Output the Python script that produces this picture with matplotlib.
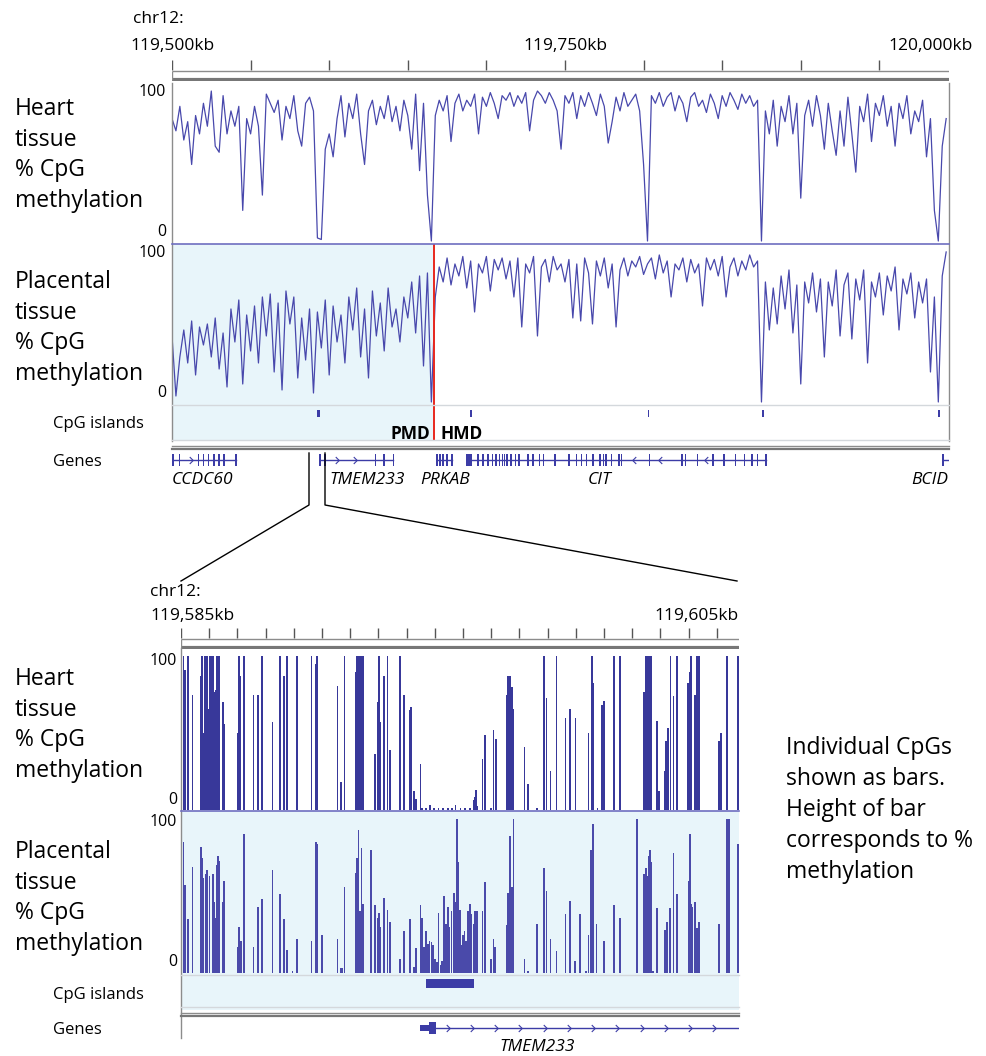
import numpy as np
import matplotlib
matplotlib.use("Agg")
import matplotlib.pyplot as plt
from matplotlib.path import Path

# ---- data -------------------------------------------------------------
# overview region, chr12 (kb)
TOP_START = 119500.0
TOP_END = 119994.3
BIN_KB = 2.5
PMD_HMD_BORDER = 119666.7

heart_top = [
    80, 72, 88, 66, 78, 50, 82, 70, 90, 75,
    98, 62, 58, 95, 70, 85, 75, 88, 20, 80,
    70, 88, 75, 30, 96, 90, 84, 92, 66, 88,
    80, 95, 72, 62, 90, 94, 85, 2, 1, 60,
    70, 55, 80, 95, 68, 90, 80, 96, 70, 50,
    85, 92, 76, 88, 80, 95, 78, 88, 72, 92,
    82, 60, 96, 46, 90, 30, 0, 82, 92, 85,
    95, 65, 90, 96, 85, 92, 88, 96, 70, 94,
    88, 97, 90, 80, 95, 92, 97, 88, 95, 90,
    97, 72, 92, 98, 95, 90, 97, 92, 85, 60,
    95, 90, 97, 80, 95, 88, 97, 90, 82, 96,
    88, 64, 78, 94, 85, 97, 88, 92, 96, 85,
    50, 0, 95, 90, 97, 88, 94, 97, 85, 95,
    90, 78, 94, 97, 88, 92, 84, 96, 90, 80,
    95, 88, 97, 92, 86, 96, 90, 95, 88, 92,
    0, 85, 70, 92, 62, 88, 78, 95, 70, 90,
    28, 82, 92, 75, 95, 82, 60, 90, 72, 56,
    85, 62, 94, 70, 45, 88, 78, 96, 65, 90,
    82, 95, 75, 88, 62, 90, 80, 95, 70, 85,
    78, 92, 55, 80, 20, 0, 62, 80,
]

placenta_top = [
    44, 4, 30, 48, 26, 54, 18, 50, 38, 52,
    30, 56, 22, 46, 10, 62, 40, 68, 12, 58,
    34, 64, 26, 70, 44, 72, 20, 66, 8, 74,
    52, 70, 16, 56, 28, 62, 6, 60, 36, 68,
    18, 64, 40, 58, 26, 70, 48, 76, 30, 62,
    16, 74, 44, 66, 34, 76, 50, 62, 40, 70,
    56, 80, 46, 84, 24, 86, 0, 70, 90, 80,
    96, 78, 92, 84, 97, 76, 94, 60, 92, 86,
    97, 74, 95, 88, 96, 82, 94, 70, 96, 50,
    92, 86, 97, 44, 90, 95, 80, 97, 88, 92,
    80, 95, 56, 92, 54, 96, 86, 52, 94, 84,
    96, 76, 92, 50, 88, 96, 84, 94, 90, 97,
    85, 92, 96, 82, 98, 86, 94, 70, 92, 88,
    96, 80, 95, 86, 92, 64, 96, 88, 95, 84,
    97, 70, 90, 96, 84, 94, 88, 98, 90, 94,
    0, 80, 48, 76, 52, 84, 62, 88, 46, 78,
    12, 80, 66, 86, 60, 82, 30, 80, 64, 88,
    44, 78, 86, 42, 82, 68, 88, 26, 80, 70,
    86, 58, 84, 74, 90, 48, 82, 72, 86, 56,
    80, 66, 82, 20, 70, 0, 84, 100,
]

# CpG islands (kb from TOP_START): start, end
islands_top = [(92.0, 94.0), (189.8, 190.6), (302.5, 303.3), (375.6, 376.4), (487.0, 488.3)]

# genes (kb from TOP_START)
genes_top = {
    "CCDC60": dict(span=(0.0, 40.6), exons=[0.5, 4.8, 16.9, 20.1, 23.3, 26.6, 29.9, 33.1, 40.6],
                   arrows=[12.0], strand="+"),
    "TMEM233": dict(span=(94.1, 140.8), exons=[94.1, 97.4, 129.4, 134.9, 140.8],
                    arrows=[105.0, 116.4], strand="+"),
    "PRKAB": dict(span=(168.6, 178.1), exons=[168.6, 170.5, 172.4, 174.9, 178.1],
                  arrows=[], strand="+"),
    "CIT": dict(span=(187.5, 378.0),
                exons=[187.5, 188.5, 189.5, 190.4, 194.7, 197.9, 201.1, 203.8, 206.0, 208.3,
                       210.3, 211.6, 213.2, 215.8, 218.5, 220.7, 226.6, 229.8, 233.8, 236.4,
                       243.6, 252.7, 257.3, 260.6, 263.8, 268.0, 272.3, 274.6, 276.2, 279.5,
                       284.4, 285.9, 303.9, 324.4, 326.7, 334.2, 344.0, 351.2, 358.4, 364.3,
                       369.1, 372.4, 378.0],
                arrows=[294.0, 310.5, 340.0], strand="-"),
    "BCID": dict(span=(490.5, 494.3), exons=[490.5], arrows=[], strand="+"),
}
gene_label_kb = {"CCDC60": (0.0, "left"), "TMEM233": (100.0, "left"), "PRKAB": (157.8, "left"),
                 "CIT": (264.6, "left"), "BCID": (493.6, "right")}

# zoomed region (kb from ZOOM_START)
ZOOM_START = 119585.0
ZOOM_END = 119604.79

heart_zoom_pos = [
    0.09, 0.13, 0.26, 0.41, 0.71, 0.75, 0.80, 0.84, 0.91, 0.95,
    1.01, 1.06, 1.14, 1.17, 1.22, 1.27, 1.32, 1.36, 1.48, 1.53,
    2.01, 2.05, 2.11, 2.23, 2.57, 2.72, 2.88, 3.24, 3.50, 3.65,
    3.76, 4.11, 4.63, 4.79, 4.83, 5.55, 5.68, 5.80, 6.19, 6.25,
    6.30, 6.35, 6.40, 6.45, 6.89, 6.97, 7.02, 7.07, 7.19, 7.32,
    7.42, 7.77, 7.90, 8.11, 8.16, 8.27, 8.33, 8.49, 8.55, 8.68,
    8.84, 8.97, 9.13, 9.30, 9.46, 9.61, 9.74, 9.91, 10.08, 10.24,
    10.37, 10.43, 10.47, 10.52, 10.69, 10.78, 10.99, 11.08, 11.17, 11.56,
    11.60, 11.66, 11.73, 11.79, 12.18, 12.31, 12.63, 12.87, 12.96, 13.11,
    13.32, 13.64, 13.80, 13.99, 14.45, 14.58, 14.62, 14.77, 14.94, 15.00,
    15.35, 15.57, 16.43, 16.48, 16.53, 16.58, 16.64, 16.69, 16.88, 16.95,
    17.17, 17.21, 17.26, 17.36, 17.47, 17.58, 17.98, 18.04, 18.09, 18.24,
    18.29, 18.37, 19.09, 19.14, 19.37, 19.76,
]
heart_zoom_val = [
    100, 91, 100, 75, 87, 100, 50, 100, 100, 66,
    100, 100, 100, 77, 78, 100, 100, 100, 70, 56,
    50, 100, 87, 100, 75, 75, 100, 57, 100, 87,
    100, 100, 100, 95, 100, 81, 18, 100, 90, 100,
    100, 100, 100, 100, 36, 70, 100, 57, 87, 100,
    39, 100, 75, 65, 67, 12, 7, 30, 1, 1,
    3, 1, 1, 1, 1, 1, 3, 1, 1, 1,
    6, 8, 13, 2, 33, 49, 1, 52, 46, 75,
    87, 87, 80, 66, 41, 17, 1, 100, 73, 25,
    100, 60, 66, 60, 50, 100, 83, 1, 68, 71,
    100, 100, 77, 100, 100, 100, 100, 100, 58, 12,
    25, 45, 53, 100, 74, 100, 83, 90, 100, 75,
    100, 100, 45, 50, 100, 100,
]

placenta_zoom_pos = [
    0.09, 0.13, 0.26, 0.41, 0.71, 0.75, 0.80, 0.87, 0.93, 1.01,
    1.14, 1.17, 1.22, 1.27, 1.30, 1.35, 1.48, 1.53, 2.01, 2.05,
    2.14, 2.24, 2.57, 2.72, 2.88, 3.24, 3.50, 3.65, 3.76, 3.95,
    4.11, 4.63, 4.79, 4.83, 5.01, 5.55, 5.68, 5.73, 5.80, 6.19,
    6.25, 6.30, 6.35, 6.40, 6.45, 6.74, 6.89, 6.97, 7.02, 7.07,
    7.19, 7.32, 7.42, 7.77, 7.90, 8.11, 8.27, 8.33, 8.49, 8.55,
    8.62, 8.68, 8.75, 8.81, 8.88, 8.94, 9.01, 9.07, 9.13, 9.20,
    9.26, 9.33, 9.39, 9.46, 9.52, 9.59, 9.67, 9.72, 9.78, 9.83,
    9.89, 9.94, 10.00, 10.05, 10.11, 10.17, 10.24, 10.30, 10.37, 10.43,
    10.50, 10.69, 10.78, 10.99, 11.08, 11.14, 11.56, 11.60, 11.66, 11.73,
    11.79, 12.18, 12.31, 12.63, 12.87, 12.96, 13.11, 13.32, 13.64, 13.80,
    13.97, 14.15, 14.36, 14.45, 14.54, 14.62, 14.74, 15.00, 15.35, 15.57,
    16.17, 16.43, 16.48, 16.53, 16.58, 16.64, 16.69, 16.75, 16.88, 17.17,
    17.23, 17.34, 17.47, 17.58, 18.01, 18.04, 18.09, 18.14, 18.24, 18.29,
    18.37, 19.09, 19.37, 19.44, 19.76,
]
placenta_zoom_val = [
    85, 57, 35, 69, 82, 75, 62, 64, 67, 63,
    64, 46, 36, 70, 76, 73, 46, 60, 17, 30,
    21, 90, 17, 43, 48, 67, 51, 35, 15, 1,
    22, 21, 85, 84, 25, 22, 3, 3, 56, 65,
    75, 93, 40, 81, 45, 80, 44, 36, 39, 30,
    49, 41, 33, 9, 27, 35, 4, 16, 44, 36,
    17, 27, 19, 21, 20, 18, 9, 7, 39, 5,
    8, 50, 32, 43, 30, 40, 52, 46, 100, 72,
    41, 18, 25, 27, 21, 40, 45, 38, 32, 40,
    40, 40, 59, 9, 22, 17, 31, 52, 89, 56,
    100, 9, 1, 32, 68, 53, 22, 14, 38, 47,
    8, 38, 1, 25, 80, 97, 32, 21, 44, 36,
    100, 64, 68, 63, 76, 80, 72, 1, 42, 28,
    33, 42, 78, 51, 60, 90, 45, 43, 46, 29,
    33, 32, 100, 100, 84,
]

island_zoom = (8.69, 10.39)
tmem_zoom_utr = (8.48, 8.79)
tmem_zoom_cds = (8.79, 9.04)
tmem_zoom_end = 19.79
tmem_zoom_arrows = [9.46, 10.32, 11.18, 12.04, 12.90, 13.76, 14.62, 15.48, 16.34, 17.20, 18.06, 18.92]

top_ticks = [119500, 119550, 119600, 119650, 119700, 119750, 119800, 119850, 119900, 119950]
zoom_ticks = list(range(119585, 119605))

# ---- style ------------------------------------------------------------
W, H = 987, 1056
LINE = "#4848ac"
BAR_H = "#38389a"
BAR_P = "#4a4aaa"
GENE = "#3c3ca6"
SHADE = "#e8f5fa"
GREY = "#8c8c8c"
LGREY = "#d4d8dc"
SEP = "#6e6ec0"

plt.rcParams["font.family"] = ["Open Sans", "DejaVu Sans"]

fig = plt.figure(figsize=(W / 100, H / 100), dpi=100)
fig.patch.set_facecolor("white")


def track(x0, y0, x1, y1, xlim, ylim=(0, 1), fc="white"):
    ax = fig.add_axes([x0 / W, 1 - y1 / H, (x1 - x0) / W, (y1 - y0) / H])
    ax.set_xlim(*xlim)
    ax.set_ylim(*ylim)
    ax.set_facecolor(fc)
    for s in ax.spines.values():
        s.set_visible(False)
    ax.set_xticks([])
    ax.set_yticks([])
    return ax


def ruler(ax, ticks):
    ax.vlines(ticks, 0.5, 0.92, color="#555555", lw=1)
    lo, hi = ax.get_xlim()
    ax.plot([lo, hi], [0.45, 0.45], color=GREY, lw=1, solid_capstyle="butt")
    ax.plot([lo, hi], [0.06, 0.06], color="#777777", lw=3, solid_capstyle="butt")
    ax.vlines([lo], 0.06, 0.45, color=GREY, lw=1)


chev_r = Path([(-0.5, 1), (0.5, 0), (-0.5, -1)], [Path.MOVETO, Path.LINETO, Path.LINETO])
chev_l = Path([(0.5, 1), (-0.5, 0), (0.5, -1)], [Path.MOVETO, Path.LINETO, Path.LINETO])

# ---- overview panel ---------------------------------------------------
xl_top = (TOP_START, TOP_END)
top_pos = TOP_START + BIN_KB * np.arange(len(heart_top))

ax = track(172, 58, 949, 81, xl_top)
ruler(ax, top_ticks)

ax = track(172, 84, 949, 243, xl_top, (-1.3, 102.6))
ax.plot(top_pos, heart_top, color=LINE, lw=0.9)

ax = track(172, 244, 949, 405, xl_top, (-2, 105.3))
ax.axvspan(TOP_START, PMD_HMD_BORDER, color=SHADE, lw=0)
ax.plot(top_pos, placenta_top, color=LINE, lw=0.9)
ax.axvline(PMD_HMD_BORDER, color="#e8281e", lw=1.4)

ax = track(172, 405, 949, 441, xl_top)
ax.axvspan(TOP_START, PMD_HMD_BORDER, color=SHADE, lw=0)
for s, e in islands_top:
    ax.bar(TOP_START + s, 0.2, width=e - s, bottom=0.66, align="edge", color=GENE, lw=0)
ax.axvline(PMD_HMD_BORDER, color="#e8281e", lw=1.4)
ax.text(PMD_HMD_BORDER - 2.5, 0.2, "PMD", ha="right", va="center", fontsize=12.5, fontweight="bold")
ax.text(PMD_HMD_BORDER + 4.0, 0.2, "HMD", ha="left", va="center", fontsize=12.5, fontweight="bold")

ax = track(172, 450, 949, 470, xl_top)
for name, g in genes_top.items():
    s, e = g["span"]
    ax.plot([TOP_START + s, TOP_START + e], [0.5, 0.5], color=GENE, lw=1)
    ax.bar([TOP_START + x for x in g["exons"]], 0.6, width=1.0, bottom=0.2, color=GENE, lw=0)
    if g["arrows"]:
        ax.plot([TOP_START + x for x in g["arrows"]], [0.5] * len(g["arrows"]), ls="none",
                marker=chev_r if g["strand"] == "+" else chev_l, ms=5, mfc="none",
                mec=GENE, mew=0.8)
    lx, ha = gene_label_kb[name]
    ax.text(TOP_START + lx, -0.5, name, ha=ha, va="center", fontsize=12.5, style="italic",
            clip_on=False)

# ---- zoom panel -------------------------------------------------------
xl_zoom = (ZOOM_START, ZOOM_END)

ax = track(181, 626, 739, 649, xl_zoom)
ruler(ax, zoom_ticks)

ax = track(181, 649, 739, 810, xl_zoom, (-0.3, 104.9))
ax.bar([ZOOM_START + p for p in heart_zoom_pos], heart_zoom_val, width=0.06, color=BAR_H, lw=0)

ax = track(181, 811, 739, 975, xl_zoom, (-1.3, 105.2), fc=SHADE)
ax.bar([ZOOM_START + p for p in placenta_zoom_pos], placenta_zoom_val, width=0.06, color=BAR_P, lw=0)

ax = track(181, 975, 739, 1010, xl_zoom, fc=SHADE)
ax.bar(ZOOM_START + island_zoom[0], 0.24, width=island_zoom[1] - island_zoom[0], bottom=0.64,
       align="edge", color=GENE, lw=0)

ax = track(181, 1018, 739, 1038, xl_zoom)
ax.plot([ZOOM_START + tmem_zoom_cds[1], ZOOM_START + tmem_zoom_end], [0.5, 0.5], color=GENE, lw=1)
ax.bar(ZOOM_START + tmem_zoom_utr[0], 0.3, width=tmem_zoom_utr[1] - tmem_zoom_utr[0], bottom=0.35,
       align="edge", color=GENE, lw=0)
ax.bar(ZOOM_START + tmem_zoom_cds[0], 0.56, width=tmem_zoom_cds[1] - tmem_zoom_cds[0], bottom=0.22,
       align="edge", color=GENE, lw=0)
ax.plot([ZOOM_START + x for x in tmem_zoom_arrows], [0.5] * len(tmem_zoom_arrows), ls="none",
        marker=chev_r, ms=5, mfc="none", mec=GENE, mew=0.8)
ax.text(ZOOM_START + 11.3, -0.45, "TMEM233", ha="left", va="center", fontsize=12.5,
        style="italic", clip_on=False)

# ---- overlay: borders, connectors, labels ------------------------------
ov = fig.add_axes([0, 0, 1, 1], zorder=10)
ov.set_xlim(0, W)
ov.set_ylim(H, 0)
ov.axis("off")

# overview borders
ov.plot([172, 172], [83, 441], color=GREY, lw=1)
ov.plot([949, 949], [83, 441], color=GREY, lw=1)
ov.plot([172, 949], [243.5, 243.5], color=SEP, lw=1.2)
ov.plot([172, 949], [405, 405], color=LGREY, lw=1)
ov.plot([172, 949], [440, 440], color=LGREY, lw=1)
ov.plot([172, 949], [445.5, 445.5], color=GREY, lw=1)
ov.plot([172, 949], [448.5, 448.5], color="#777777", lw=1.6)

# zoom borders
ov.plot([181, 181], [648, 1038], color=GREY, lw=1)
ov.plot([181, 739], [810.5, 810.5], color=SEP, lw=1.2)
ov.plot([181, 739], [975, 975], color=LGREY, lw=1)
ov.plot([181, 739], [1007, 1007], color=LGREY, lw=1)
ov.plot([181, 739], [1013, 1013], color=GREY, lw=1)
ov.plot([181, 739], [1015.5, 1015.5], color="#777777", lw=1.6)

# zoom connectors
ov.plot([309, 309, 181], [453, 505, 581], color="black", lw=1)
ov.plot([325, 325, 737], [453, 505, 581], color="black", lw=1)

# coordinates
ov.text(133, 19, "chr12:", ha="left", va="center", fontsize=12.5)
ov.text(172, 46, "119,500kb", ha="center", va="center", fontsize=12.5)
ov.text(565, 46, "119,750kb", ha="center", va="center", fontsize=12.5)
ov.text(973, 46, "120,000kb", ha="right", va="center", fontsize=12.5)
ov.text(150, 592, "chr12:", ha="left", va="center", fontsize=12.5)
ov.text(150, 616, "119,585kb", ha="left", va="center", fontsize=12.5)
ov.text(739, 616, "119,605kb", ha="right", va="center", fontsize=12.5)

# track labels
lab_kw = dict(ha="left", va="center", fontsize=16.5, linespacing=1.38)
ov.text(15, 155, "Heart\ntissue\n% CpG\nmethylation", **lab_kw)
ov.text(15, 328, "Placental\ntissue\n% CpG\nmethylation", **lab_kw)
ov.text(15, 725, "Heart\ntissue\n% CpG\nmethylation", **lab_kw)
ov.text(15, 898, "Placental\ntissue\n% CpG\nmethylation", **lab_kw)

num_kw = dict(ha="right", va="center", fontsize=11.5)
ov.text(166, 92, "100", **num_kw)
ov.text(166, 232, "0", **num_kw)
ov.text(166, 253, "100", **num_kw)
ov.text(166, 393, "0", **num_kw)
ov.text(177, 661, "100", **num_kw)
ov.text(177, 800, "0", **num_kw)
ov.text(177, 822, "100", **num_kw)
ov.text(177, 962, "0", **num_kw)

ov.text(53, 424, "CpG islands", ha="left", va="center", fontsize=12)
ov.text(53, 462, "Genes", ha="left", va="center", fontsize=12)
ov.text(53, 995, "CpG islands", ha="left", va="center", fontsize=12)
ov.text(53, 1030, "Genes", ha="left", va="center", fontsize=12)

ov.text(786, 810, "Individual CpGs\nshown as bars.\nHeight of bar\ncorresponds to %\nmethylation",
        ha="left", va="center", fontsize=16.5, linespacing=1.38)

fig.savefig("out.png", dpi=100, facecolor="white")
